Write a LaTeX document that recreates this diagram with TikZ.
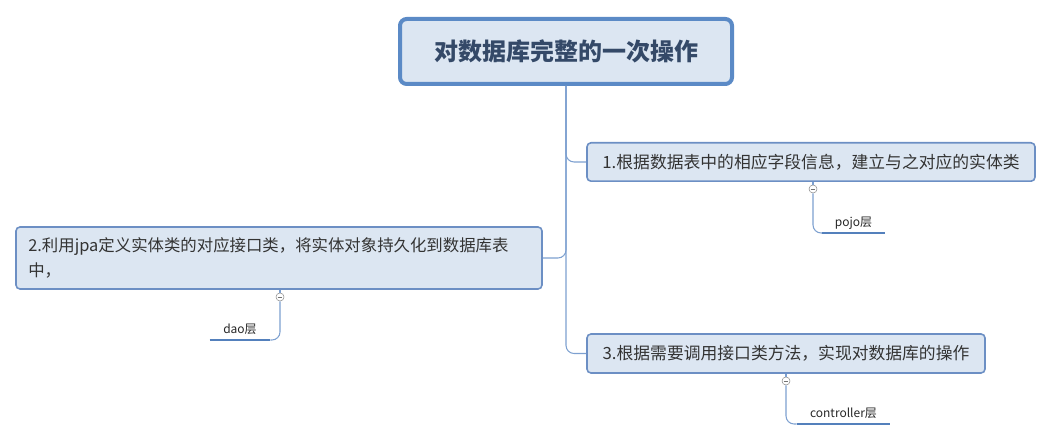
\documentclass[tikz,border=0pt]{standalone}
\usepackage{fontspec}
\setmainfont{Noto Sans CJK SC}
\usetikzlibrary{calc}
\definecolor{topicfill}{RGB}{220,230,242}
\definecolor{topicline}{RGB}{108,143,196}
\definecolor{rootline}{RGB}{91,138,198}
\definecolor{roottext}{RGB}{52,73,104}
\definecolor{branchline}{RGB}{125,160,208}
\definecolor{subline}{RGB}{84,128,188}
\tikzset{
  roottopic/.style={
    draw = rootline,
    fill = topicfill,
    line width = 3pt,
    rounded corners = 5pt,
    minimum width = 249pt,
    minimum height = 48.75pt,
    text = roottext,
    font = \fontsize{18}{21}\selectfont\bfseries
  },
  topic/.style={
    draw = topicline,
    fill = topicfill,
    line width = 1.2pt,
    rounded corners = 3pt,
    text = black!80,
    font = \fontsize{12.6}{18.5}\selectfont
  },
  subtopic/.style={
    inner sep = 0pt,
    minimum height = 15pt,
    text = black!85,
    font = \fontsize{9}{11}\selectfont
  },
  underline/.style={
    draw = subline,
    line width = 2.2pt
  },
  fold/.style={
    shape = circle,
    draw = black!45,
    fill = white,
    line width = 0.4pt,
    inner sep = 0pt,
    minimum size = 6pt,
    path picture = {
      \draw[black!55, line width = 0.4pt]
        ([xshift=1.3pt]path picture bounding box.west) --
        ([xshift=-1.3pt]path picture bounding box.east);
    }
  },
  branch/.style={
    draw = branchline,
    line width = 0.8pt,
    rounded corners = 6pt
  }
}

\begin{document}
\begin{tikzpicture}[x=0.75pt, y=-0.75pt]
  \useasboundingbox (0,0) rectangle (1054,441);
  \node[roottopic] (root) at (566,51.5) {对数据库完整的一次操作};
  \node[topic, minimum width=336pt, minimum height=28.8pt] (t1) at (811,162)
    {1.根据数据表中的相应字段信息，建立与之对应的实体类};
  \node[topic, align=left, text width=376pt, inner xsep=9.25pt,
    minimum height=46.5pt, font=\fontsize{12.3}{18.5}\selectfont] (t2) at (279,258)
    {2.利用jpa定义实体类的对应接口类，将实体对象持久化到数据库表\\中，};
  \node[topic, minimum width=298.5pt, minimum height=29.25pt] (t3) at (786,353.5)
    {3.根据需要调用接口类方法，实现对数据库的操作};

  % branches
  \draw[branch] (root.south) |- (t1.west);
  \draw[branch] (root.south) |- (t3.west);
  \draw[branch] (t2.east) -| (root.south);

  % sub topics
  \node[fold] (f1) at (813,189) {};
  \node[fold] (f2) at (280,297) {};
  \node[fold] (f3) at (786,381) {};
  \node[subtopic, minimum width=47pt, anchor=south] (s1) at (853.5,233) {pojo层};
  \node[subtopic, minimum width=45pt, anchor=south] (s2) at (240,340) {dao层};
  \node[subtopic, minimum width=70pt, anchor=south] (s3) at (843.5,424) {controller层};
  \foreach \t/\f/\s/\e in {t1/f1/s1/west,t2/f2/s2/east,t3/f3/s3/west}{
    \draw[branch] (\t.south -| \f) -- (\f.north);
    \draw[branch] (\f.south) |- (\s.south \e);
    \draw[underline] (\s.south west) -- (\s.south east);
  }
\end{tikzpicture}
\end{document}
